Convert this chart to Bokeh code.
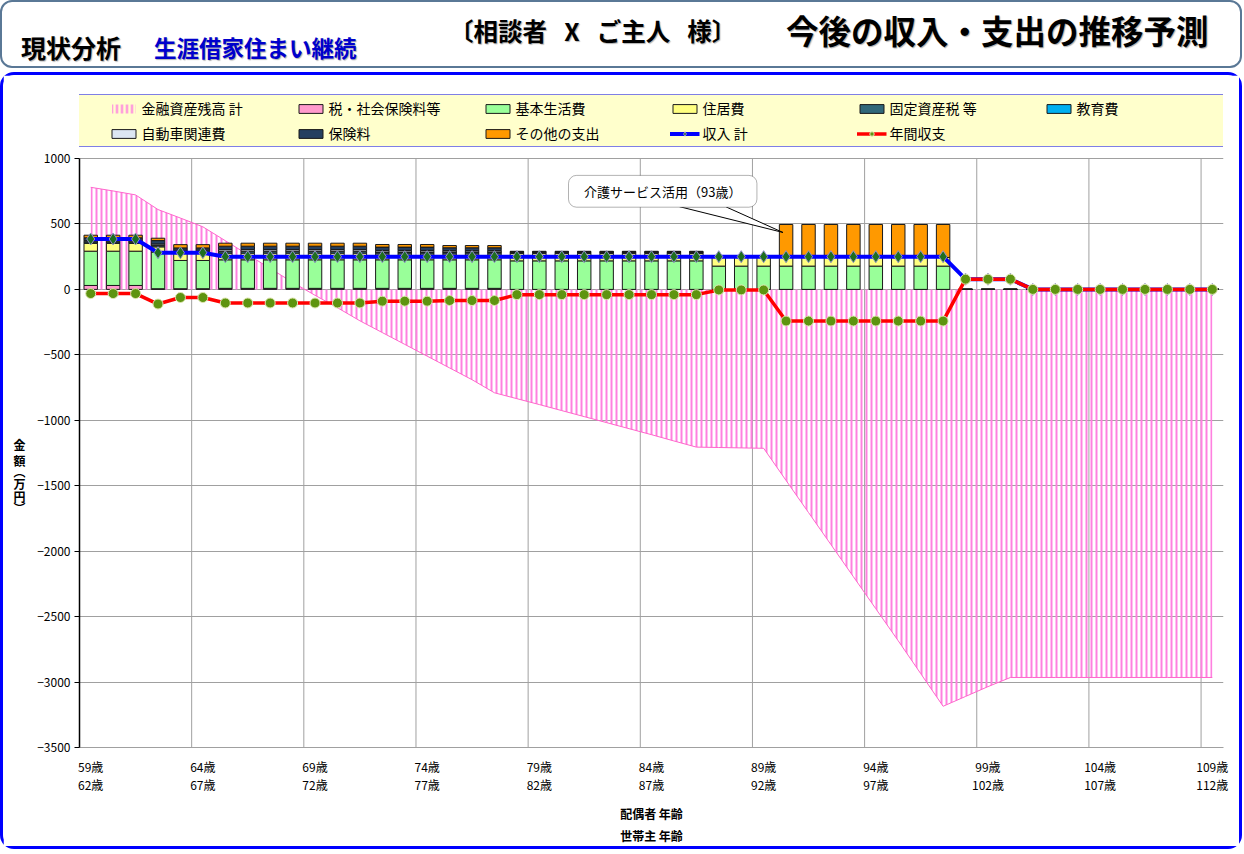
from bokeh.plotting import figure
from bokeh.models import (Range1d, FixedTicker, LinearAxis, Legend, LegendItem, Label,
                          BoxAnnotation, ColumnDataSource, Div)
from bokeh.layouts import column
from bokeh.embed import file_html
from bokeh.resources import INLINE

FONT = "Noto Sans CJK JP"

# ---------------- data ----------------
spouse_age = [59, 60, 61, 62, 63, 64, 65, 66, 67, 68, 69, 70, 71, 72, 73, 74, 75, 76, 77, 78,
              79, 80, 81, 82, 83, 84, 85, 86, 87, 88, 89, 90, 91, 92, 93, 94, 95, 96, 97, 98,
              99, 100, 101, 102, 103, 104, 105, 106, 107, 108, 109]
head_age = [62, 63, 64, 65, 66, 67, 68, 69, 70, 71, 72, 73, 74, 75, 76, 77, 78, 79, 80, 81,
            82, 83, 84, 85, 86, 87, 88, 89, 90, 91, 92, 93, 94, 95, 96, 97, 98, 99, 100, 101,
            102, 103, 104, 105, 106, 107, 108, 109, 110, 111, 112]

tax = [30, 30, 30, 5, 5, 5, 8, 8, 8, 8, 8, 8, 8, 8, 8, 8, 8, 8, 8, 0,
       0, 0, 0, 0, 0, 0, 0, 0, 0, 0, 0, 0, 0, 0, 0, 0, 0, 0, 0, 0,
       0, 0, 0, 0, 0, 0, 0, 0, 0, 0, 0]
basic = [262, 262, 262, 280, 216, 216, 218, 218, 218, 218, 218, 218, 218, 218, 218, 218, 218, 218, 218, 218,
         218, 218, 218, 218, 218, 218, 218, 218, 178, 178, 178, 178, 178, 178, 178, 178, 178, 178, 178, 0,
         0, 0, 0, 0, 0, 0, 0, 0, 0, 0, 0]
housing = [60, 60, 60, 40, 63, 63, 51, 51, 51, 51, 51, 51, 51, 45, 45, 45, 45, 45, 45, 57,
           57, 57, 57, 57, 57, 57, 57, 57, 68, 68, 68, 66, 66, 66, 66, 66, 66, 66, 66, 0,
           0, 0, 0, 0, 0, 0, 0, 0, 0, 0, 0]
fixed_tax = [12, 12, 12, 12, 8, 8, 15, 15, 15, 15, 15, 15, 15, 15, 15, 15, 15, 15, 15, 8,
             8, 8, 8, 8, 8, 8, 8, 8, 6, 6, 6, 0, 0, 0, 0, 0, 0, 0, 0, 0,
             0, 0, 0, 0, 0, 0, 0, 0, 0, 0, 0]
education = [0, 0, 0, 0, 0, 0, 0, 0, 0, 0, 0, 0, 0, 0, 0, 0, 0, 0, 0, 0,
             0, 0, 0, 0, 0, 0, 0, 0, 0, 0, 0, 0, 0, 0, 0, 0, 0, 0, 0, 0,
             0, 0, 0, 0, 0, 0, 0, 0, 0, 0, 0]
car = [8, 8, 8, 10, 8, 8, 12, 12, 12, 12, 12, 12, 12, 12, 12, 12, 10, 10, 10, 0,
       0, 0, 0, 0, 0, 0, 0, 0, 0, 0, 0, 0, 0, 0, 0, 0, 0, 0, 0, 0,
       0, 0, 0, 0, 0, 0, 0, 0, 0, 0, 0]
insurance = [22, 22, 22, 26, 17, 17, 26, 26, 26, 26, 26, 26, 26, 25, 25, 25, 22, 22, 22, 7,
             7, 7, 7, 7, 7, 7, 7, 7, 0, 0, 0, 0, 0, 0, 0, 0, 0, 0, 0, 0,
             0, 0, 0, 0, 0, 0, 0, 0, 0, 0, 0]
other = [20, 20, 20, 18, 25, 25, 23, 23, 23, 23, 23, 23, 23, 20, 20, 20, 17, 17, 17, 0,
         0, 0, 0, 0, 0, 0, 0, 0, 0, 0, 0, 252, 252, 252, 252, 252, 252, 252, 252, 0,
         0, 0, 0, 0, 0, 0, 0, 0, 0, 0, 0]
income = [385, 385, 385, 280, 280, 280, 250, 250, 250, 250, 250, 250, 250, 250, 250, 250, 250, 250, 250, 250,
          250, 250, 250, 250, 250, 250, 250, 250, 250, 250, 250, 250, 250, 250, 250, 250, 250, 250, 250, 78,
          78, 78, 0, 0, 0, 0, 0, 0, 0, 0, 0]
balance = [-32, -32, -32, -112, -62, -62, -104, -104, -104, -104, -104, -104, -104, -90, -90, -90, -85, -85, -85, -40,
           -40, -40, -40, -40, -40, -40, -40, -40, -4, -4, -4, -242, -242, -242, -242, -242, -242, -242, -242, 78,
           78, 78, 0, 0, 0, 0, 0, 0, 0, 0, 0]
assets = [780, 752, 722, 610, 545, 478, 372, 266, 160, 54, -45, -140, -240, -330, -420, -510, -600, -690, -790, -835,
          -880, -926, -972, -1018, -1064, -1110, -1158, -1205, -1208, -1211, -1214, -1460, -1705, -1950, -2195, -2440,
          -2685, -2935, -3185, -3110, -3035, -2965, -2965, -2965, -2965, -2965, -2965, -2965, -2965, -2965, -2965]

y_ticks = [-3500, -3000, -2500, -2000, -1500, -1000, -500, 0, 500, 1000]

series_names = ["税・社会保険料等", "基本生活費", "住居費", "固定資産税 等", "教育費",
                "自動車関連費", "保険料", "その他の支出"]
series_keys = ["tax", "basic", "housing", "fixed_tax", "education", "car", "insurance", "other"]
series_colors = ["#FF99CC", "#99FF99", "#FFFF80", "#31687A", "#00B0F0", "#DCE6F2", "#243F60", "#FF9900"]

callout_text = "介護サービス活用（93歳）"
y_title_chars = ["金", "額", "︵", "万", "円", "︶"]
y_title_pos = [-1184, -1306, -1395, -1482, -1581, -1665]

# ---------------- figure ----------------
x = list(range(len(spouse_age)))
src = ColumnDataSource(dict(x=x, tax=tax, basic=basic, housing=housing, fixed_tax=fixed_tax,
                            education=education, car=car, insurance=insurance, other=other,
                            income=income, balance=balance, assets=assets))

Y_MIN, Y_MAX = y_ticks[0], y_ticks[-1]
p = figure(width=1242, height=777, x_range=Range1d(-0.5, len(x) - 0.5), y_range=Range1d(Y_MIN, 1489),
           output_backend="svg", toolbar_location=None,
           min_border_left=76, min_border_right=22, min_border_top=19, min_border_bottom=105,
           background_fill_color="white", border_fill_color="white", outline_line_color=None,
           styles={"border": "3px solid #0000FF", "border-radius": "14px"})

label_ticks = [i for i, a in enumerate(spouse_age) if (a - spouse_age[0]) % 5 == 0]
grid_x = [t - 0.5 for t in label_ticks[1:]]

# grids
p.xgrid.visible = False
p.segment(x0=grid_x, y0=[Y_MIN] * len(grid_x), x1=grid_x, y1=[Y_MAX] * len(grid_x),
          line_color="#A0A0A0", line_width=1)
p.ygrid.ticker = FixedTicker(ticks=y_ticks)
p.ygrid.grid_line_color = "#A0A0A0"

# y axis
p.yaxis.ticker = FixedTicker(ticks=y_ticks)
p.yaxis.bounds = (Y_MIN, Y_MAX)
p.yaxis.axis_line_color = "black"
p.yaxis.axis_line_width = 1.5
p.yaxis.major_tick_out = 5
p.yaxis.major_tick_in = 0
p.yaxis.minor_tick_line_color = None
p.yaxis.major_label_text_font = FONT
p.yaxis.major_label_text_font_size = "12px"
p.yaxis.major_label_text_color = "black"
p.yaxis.major_label_standoff = 4

# y-axis title: vertical stacked characters, as labels of an outer left axis
ay2 = LinearAxis(ticker=FixedTicker(ticks=y_title_pos),
                 major_label_overrides={t: c for t, c in zip(y_title_pos, y_title_chars)},
                 axis_line_color=None, major_tick_line_color=None, minor_tick_line_color=None,
                 major_tick_out=0, major_label_standoff=9,
                 major_label_text_font=FONT, major_label_text_font_size="12px",
                 major_label_text_font_style="bold", major_label_text_color="black")
p.add_layout(ay2, "left")

# x axis (spouse age)
xa = p.xaxis[0]
xa.ticker = FixedTicker(ticks=label_ticks)
xa.major_label_overrides = {i: f"{spouse_age[i]}歳" for i in label_ticks}
xa.axis_line_color = "#A0A0A0"
xa.major_tick_line_color = None
xa.minor_tick_line_color = None
xa.major_tick_out = 0
xa.major_label_standoff = 10
xa.major_label_text_font = FONT
xa.major_label_text_font_size = "12px"
xa.major_label_text_color = "black"

ax2 = LinearAxis(ticker=FixedTicker(ticks=label_ticks),
                 major_label_overrides={i: f"{head_age[i]}歳" for i in label_ticks},
                 axis_line_color=None, major_tick_line_color=None, minor_tick_line_color=None,
                 major_tick_out=0, major_label_standoff=-2,
                 major_label_text_font=FONT, major_label_text_font_size="12px",
                 major_label_text_color="black",
                 axis_label="配偶者 年齢", axis_label_text_font=FONT, axis_label_text_color="black",
                 axis_label_text_font_size="12px", axis_label_text_font_style="bold",
                 axis_label_standoff=9)
p.add_layout(ax2, "below")
ax3 = LinearAxis(ticker=FixedTicker(ticks=[]), axis_line_color=None, major_tick_line_color=None,
                 minor_tick_line_color=None, major_tick_out=0, major_label_standoff=0,
                 axis_label="世帯主 年齢", axis_label_text_font=FONT, axis_label_text_color="black",
                 axis_label_text_font_size="12px", axis_label_text_font_style="bold",
                 axis_label_standoff=2)
p.add_layout(ax3, "below")

# asset area (striped)
area = p.varea(x="x", y1=0, y2="assets", source=src, fill_color="white", fill_alpha=0.0,
               hatch_pattern="|", hatch_color="#FF80E0", hatch_scale=5, hatch_weight=2)
p.line(x="x", y="assets", source=src, line_color="#FF66CC", line_width=1)

# stacked expense bars
bars = p.vbar_stack(series_keys, x="x", width=0.6, source=src, fill_color=series_colors,
                    line_color="#1A1A1A", line_width=1)

# income
inc_line = p.line(x="x", y="income", source=src, line_color="#0000FF", line_width=4)
inc_pts = p.scatter(x="x", y="income", source=src, marker="diamond", size=12,
                    fill_color="#1E6E1E", line_color="#9090C8", line_width=1)
# balance
bal_line = p.line(x="x", y="balance", source=src, line_color="#FF0000", line_width=3.5)
bal_pts = p.scatter(x="x", y="balance", source=src, marker="circle", size=10,
                    fill_color="#5E9410", line_color="#DDE6B0", line_width=1)

# callout
p.patch(x=[26.25, 30.86, 28.3], y=[632, 435, 632], fill_color="white", line_color="black", line_width=1)
p.add_layout(BoxAnnotation(left=21.3, right=29.7, bottom=628, top=871, fill_color="white", fill_alpha=1.0,
                           line_color="black", line_width=1, border_radius=8))
p.add_layout(Label(x=25.5, y=749, text=callout_text, text_font=FONT, text_font_size="13px",
                   text_align="center", text_baseline="middle", text_color="black"))

# legend
items = [LegendItem(label="金融資産残高 計", renderers=[area])]
for name, r in zip(series_names, bars):
    items.append(LegendItem(label=name, renderers=[r]))
items.append(LegendItem(label="収入 計", renderers=[inc_line, inc_pts]))
items.append(LegendItem(label="年間収支", renderers=[bal_line, bal_pts]))
legend_kw = dict(items=items, ncols=6, orientation="horizontal", location="top_center",
                 background_fill_color="#FFFFCC", background_fill_alpha=1.0,
                 border_line_color="#0000FF", border_line_width=1,
                 label_text_font=FONT, label_text_font_size="14px", label_text_color="black",
                 glyph_width=30, glyph_height=11, label_width=153, label_height=16,
                 label_standoff=3, spacing=5, padding=3, margin=0)
if "title_location" in Legend.properties():
    legend_kw.update(title="\u3000", title_location="left", title_standoff=12,
                     title_text_font=FONT, title_text_font_size="14px", label_width=149)
legend = Legend(**legend_kw)
p.add_layout(legend, "center")

# ---------------- header ----------------
header_html = """<div style="position:relative;box-sizing:border-box;width:1242px;height:68px;border:2px solid #5A7896;border-radius:12px;background:#FFFFFF;font-family:'Noto Sans CJK JP';font-weight:bold;">
<div style="position:absolute;left:19px;top:33px;font-size:25px;line-height:1;color:#000;white-space:nowrap;text-shadow:1px 1px 1px #B0B0B0;">現状分析</div>
<div style="position:absolute;left:152px;top:34px;font-size:22.5px;line-height:1;color:#0000CC;white-space:nowrap;text-shadow:1px 1px 1px #B0B0B0;">生涯借家住まい継続</div>
<div style="position:absolute;left:447px;top:17px;font-size:24.5px;line-height:1;color:#000;white-space:nowrap;text-shadow:1px 1px 1px #B0B0B0;">〔相談者&ensp;&thinsp;X&ensp;&thinsp;ご主人&ensp;&thinsp;様〕</div>
<div style="position:absolute;left:784px;top:12px;font-size:32.5px;line-height:1;color:#000;white-space:nowrap;text-shadow:1px 1px 1px #B0B0B0;">今後の収入・支出の推移予測</div>
</div>"""
header = Div(text=header_html, width=1242, height=68, margin=(0, 0, 0, 0))

layout = column(header, p, spacing=4)
open("out.html", "w").write(file_html(layout, INLINE))
